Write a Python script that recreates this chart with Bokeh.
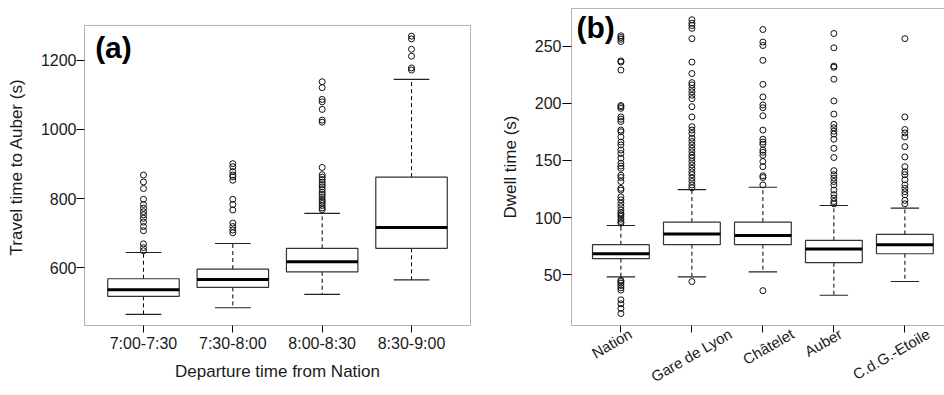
from bokeh.plotting import figure
from bokeh.layouts import row
from bokeh.models import FixedTicker, Label, BoxAnnotation, Range1d
from bokeh.embed import file_html
from bokeh.resources import INLINE

FONT = "Liberation Sans"
TXT = "#1a1a1a"

# ---------------- Panel (a): travel time to Auber ----------------
a_labels = ["7:00-7:30", "7:30-8:00", "8:00-8:30", "8:30-9:00"]
a_low = [465, 484, 523, 565]
a_q1 = [517, 543, 588, 656]
a_med = [536, 566, 617, 716]
a_q3 = [568, 596, 656, 862]
a_high = [644, 670, 757, 1145]
a_out_1 = [868, 848, 829, 798, 783, 772, 762, 753, 743, 732, 719, 707, 669, 658, 649]
a_out_2 = [901, 892, 878, 868, 863, 853, 798, 783, 767, 729, 719, 709, 701]
a_out_3 = [1138, 1121, 1087, 1080, 1058, 1027, 1021, 890, 869, 862, 855, 847, 840,
           834, 826, 818, 812, 805, 797, 792, 786, 780, 773, 768]
a_out_4 = [1270, 1262, 1232, 1212, 1178, 1172]
a_yticks = [600, 800, 1000, 1200]

# ---------------- Panel (b): dwell time per station ----------------
b_labels = ["Nation", "Gare de Lyon", "Châtelet", "Auber", "C.d.G.-Etoile"]
b_low = [48, 48, 52.4, 32, 44]
b_q1 = [64, 76.2, 76.2, 60.5, 68.3]
b_med = [68.3, 85.5, 84.3, 72.4, 76.2]
b_q3 = [76.2, 96, 96, 80, 85.2]
b_high = [93, 124.4, 126.5, 110.5, 108.2]
b_out_nation = [259, 257.5, 256, 254, 237, 236, 229, 198, 197, 195.5, 188, 186, 184,
                176.5, 175, 170.5, 166, 163.5, 159, 156, 152, 147.5, 145, 143, 137,
                135, 131.5, 125.5, 124, 118, 115.5, 112.5, 109.5, 106.5, 104, 102.5,
                101, 98.5, 96.5, 95,
                45, 44, 42.5, 40.5, 38.5, 36.5, 28, 24.5, 20.5, 16]
b_out_gare = [273, 270, 268, 265.5, 256.5, 236, 226, 218, 216, 213, 210, 207, 204, 197,
              188, 179.5, 176.5, 173.5, 169.5, 166.5, 163.5, 160.5, 157.5, 154.5, 152,
              149, 146, 143, 140, 137.5, 134.5, 131.5, 128.5, 126, 44]
b_out_chatelet = [264.5, 253.5, 250.5, 237.5, 216.5, 205.5, 198.5, 196, 189, 176.5,
                  168.5, 166, 164, 159, 157, 154.5, 149, 144.5, 136.5, 135, 128.5, 36]
b_out_auber = [261, 248.5, 232.5, 231.5, 221, 202, 190.5, 181.5, 178.5, 175.5, 173,
               168.5, 160.5, 152.5, 141, 137.5, 134.5, 131.5, 128.5, 124, 120, 117,
               114, 112]
b_out_cdg = [256.5, 188, 177, 174, 170.5, 162, 153, 144.5, 140, 137.5, 133, 128.5,
             125.5, 122.5, 120, 115, 112]
b_yticks = [50, 100, 150, 200, 250]

# layout constant: where each slanted station label ends (offset from its tick)
b_label_shift = [0.135, 0.544, 0.417, 0.093, 0.332]


def draw_boxes(p, low, q1, med, q3, high, outliers):
    xs = list(range(1, len(med) + 1))
    p.segment(x0=xs, y0=q3, x1=xs, y1=high, line_color="black", line_width=1,
              line_dash="4 3")
    p.segment(x0=xs, y0=q1, x1=xs, y1=low, line_color="black", line_width=1,
              line_dash="4 3")
    p.segment(x0=[x - 0.2 for x in xs], y0=high, x1=[x + 0.2 for x in xs], y1=high,
              line_color="#222222", line_width=1.2)
    p.segment(x0=[x - 0.2 for x in xs], y0=low, x1=[x + 0.2 for x in xs], y1=low,
              line_color="#222222", line_width=1.2)
    p.vbar(x=xs, width=0.8, bottom=q1, top=q3, fill_color="white",
           line_color="#333333", line_width=1.2)
    p.segment(x0=[x - 0.4 for x in xs], y0=med, x1=[x + 0.4 for x in xs], y1=med,
              line_color="black", line_width=3)
    ox, oy = [], []
    for x, vals in zip(xs, outliers):
        ox += [x] * len(vals)
        oy += vals
    p.scatter(x=ox, y=oy, marker="circle", size=6, fill_color=None,
              line_color="#111111", line_width=1)


def style_axes(p):
    p.xgrid.visible = False
    p.ygrid.visible = False
    p.background_fill_color = "white"
    p.border_fill_color = "white"
    p.outline_line_color = None
    for ax in (p.xaxis[0], p.yaxis[0]):
        ax.axis_line_color = None
        ax.major_tick_in = 1
        ax.minor_tick_line_color = None
        ax.major_tick_line_color = "black"
        ax.major_label_text_font = FONT
        ax.major_label_text_font_size = "16px"
        ax.major_label_text_color = TXT
        ax.axis_label_text_font = FONT
        ax.axis_label_text_font_size = "17px"
        ax.axis_label_text_font_style = "normal"
        ax.axis_label_text_color = TXT


# ---------- figure (a) ----------
pa = figure(width=490, height=395, output_backend="svg", toolbar_location=None,
            x_range=Range1d(0.3288, 4.6712), y_range=Range1d(429.8, 1352.9),
            min_border_left=83, min_border_right=19, min_border_top=7,
            min_border_bottom=68)
style_axes(pa)
pa.xaxis.ticker = FixedTicker(ticks=list(range(1, len(a_labels) + 1)))
pa.xaxis.major_label_overrides = {i + 1: lab for i, lab in enumerate(a_labels)}
pa.xaxis.major_tick_out = 6
pa.xaxis.major_label_standoff = 2
pa.xaxis.axis_label = "Departure time from Nation"
pa.xaxis.axis_label_standoff = 7
pa.yaxis.ticker = FixedTicker(ticks=a_yticks)
pa.yaxis.major_tick_out = 7
pa.yaxis.major_label_standoff = 0
pa.yaxis.axis_label = "Travel time to Auber (s)"
pa.yaxis.axis_label_standoff = 12
pa.add_layout(BoxAnnotation(left=0.34, right=4.66, bottom=432.7, top=1301.0,
                            fill_color=None, line_color="black", line_width=1))
draw_boxes(pa, a_low, a_q1, a_med, a_q3, a_high, [a_out_1, a_out_2, a_out_3, a_out_4])
pa.add_layout(Label(x=0.459, y=1236, text="(a)", text_font=FONT,
                    text_font_size="30px", text_font_style="bold",
                    text_color="black", text_baseline="alphabetic"))

# ---------- figure (b) ----------
pb = figure(width=454, height=395, output_backend="svg", toolbar_location=None,
            x_range=Range1d(0.290, 5.558), y_range=Range1d(4.65, 283.75),
            min_border_left=80, min_border_right=0, min_border_top=7,
            min_border_bottom=68)
style_axes(pb)
b_pos = list(range(1, len(b_labels) + 1))
b_lab_pos = [x + s for x, s in zip(b_pos, b_label_shift)]
pb.xaxis.ticker = FixedTicker(ticks=b_lab_pos, minor_ticks=b_pos)
pb.xaxis.major_label_overrides = {v: lab for v, lab in zip(b_lab_pos, b_labels)}
pb.xaxis.major_tick_line_color = None
pb.xaxis.major_tick_out = 0
pb.xaxis.major_tick_in = 0
pb.xaxis.minor_tick_line_color = "black"
pb.xaxis.minor_tick_out = 6
pb.xaxis.minor_tick_in = 1
pb.xaxis.major_label_text_font_size = "15px"
pb.xaxis.major_label_standoff = 0
pb.xaxis.major_label_orientation = 0.5236
pb.yaxis.ticker = FixedTicker(ticks=b_yticks)
pb.yaxis.major_tick_out = 8
pb.yaxis.major_label_standoff = 1
pb.yaxis.axis_label = "Dwell time (s)"
pb.yaxis.axis_label_standoff = 12
pb.add_layout(BoxAnnotation(left=0.304, right=6.0, bottom=5.52, top=282.9,
                            fill_color=None, line_color="black", line_width=1))
draw_boxes(pb, b_low, b_q1, b_med, b_q3, b_high,
           [b_out_nation, b_out_gare, b_out_chatelet, b_out_auber, b_out_cdg])
pb.add_layout(Label(x=0.375, y=266.3, text="(b)", text_font=FONT,
                    text_font_size="30px", text_font_style="bold",
                    text_color="black", text_baseline="alphabetic"))

layout = row(pa, pb)
open("out.html", "w").write(file_html(layout, INLINE))
